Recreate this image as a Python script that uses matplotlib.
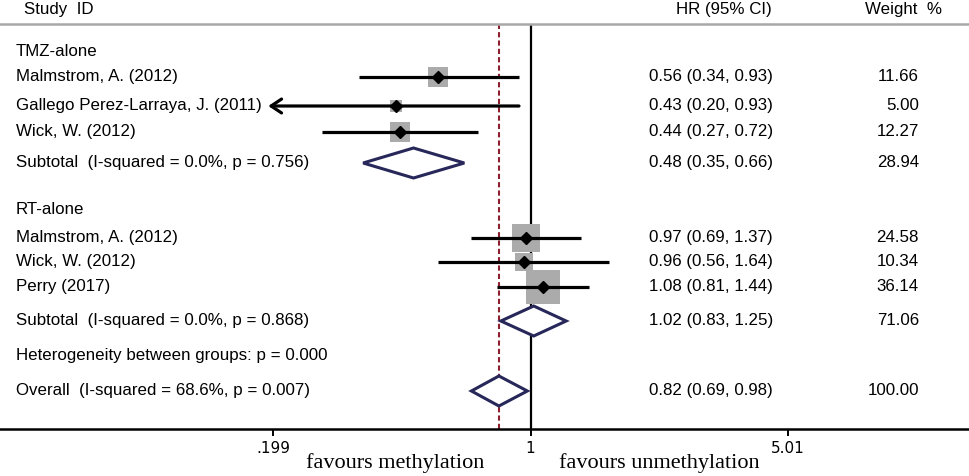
import numpy as np
import matplotlib
matplotlib.use("Agg")
import matplotlib.pyplot as plt
from matplotlib import transforms
from matplotlib.patches import Polygon

# ---------------- data ----------------
group_names = ["TMZ-alone", "RT-alone"]
study_labels = [
    ["Malmstrom, A. (2012)", "Gallego Perez-Larraya, J. (2011)", "Wick, W. (2012)"],
    ["Malmstrom, A. (2012)", "Wick, W. (2012)", "Perry (2017)"],
]
study_hr = [[0.56, 0.43, 0.44], [0.97, 0.96, 1.08]]
study_lo = [[0.34, 0.20, 0.27], [0.69, 0.56, 0.81]]
study_hi = [[0.93, 0.93, 0.72], [1.37, 1.64, 1.44]]
study_w = [[11.66, 5.00, 12.27], [24.58, 10.34, 36.14]]

sub_labels = ["Subtotal  (I-squared = 0.0%, p = 0.756)",
              "Subtotal  (I-squared = 0.0%, p = 0.868)"]
sub_hr = [0.48, 1.02]
sub_lo = [0.35, 0.83]
sub_hi = [0.66, 1.25]
sub_w = [28.94, 71.06]

het_label = "Heterogeneity between groups: p = 0.000"
overall_label = "Overall  (I-squared = 68.6%, p = 0.007)"
overall_hr, overall_lo, overall_hi, overall_w = 0.82, 0.69, 0.98, 100.00

xticks = [0.199, 1, 5.01]
xtick_labels = [".199", "1", "5.01"]
axis_min = 0.199

# ---------------- layout ----------------
W, H = 970, 476
fig = plt.figure(figsize=(W / 100, H / 100), dpi=100)
ax_top, ax_bot = 24, 429
ax = fig.add_axes([0, (H - ax_bot) / H, 1, (ax_bot - ax_top) / H])
ax.set_xscale("log")
ax.set_xlim(0.0359, 15.73)
ax.set_ylim(ax_bot, ax_top)

plt.rcParams["font.family"] = ["Liberation Sans", "DejaVu Sans"]
FS = 12.2
T = transforms.blended_transform_factory(fig.transFigure, ax.transData)

# row y positions (layout)
group_y = [52, 210]
study_y = [[77, 106, 132], [238, 262, 287]]
sub_y = [163, 321]
het_y = 356
overall_y = 391
half_h = 15

x_label = 16 / W
x_hr = 773 / W
x_w = 919 / W

navy = "#27275a"
grey = "#ababab"

# reference lines
ax.axvline(1, color="black", lw=1.6, zorder=1)
ax.axvline(overall_hr, color="#8e1f2f", lw=1.5, ls=(0, (2.5, 1.5)), zorder=1)

def fmt(h, l, u):
    return f"{h:.2f} ({l:.2f}, {u:.2f})"

def diamond(est, lo, hi, y):
    poly = Polygon([(lo, y), (est, y - half_h), (hi, y), (est, y + half_h)],
                   closed=True, facecolor="white", edgecolor=navy, lw=2.2, zorder=4)
    ax.add_patch(poly)

for g in range(2):
    ax.text(x_label, group_y[g], group_names[g], transform=T, ha="left", va="center", fontsize=FS)
    for i in range(3):
        y = study_y[g][i]
        h, l, u, w = study_hr[g][i], study_lo[g][i], study_hi[g][i], study_w[g][i]
        ax.plot([h], [y], marker="s", markersize=4.03 * np.sqrt(w), color=grey,
                markeredgewidth=0, zorder=2, linestyle="none")
        if l <= axis_min + 0.005:
            ax.annotate("", xy=(axis_min * 0.97, y), xytext=(u, y),
                        arrowprops=dict(arrowstyle="->,head_length=0.75,head_width=0.5",
                                        lw=2.3, color="black", shrinkA=0, shrinkB=0),
                        zorder=3)
        else:
            ax.plot([l, u], [y, y], color="black", lw=2.3, zorder=3, solid_capstyle="butt")
        ax.plot([h], [y], marker="D", markersize=6.2, color="black", zorder=5, linestyle="none")
        ax.text(x_label, y, study_labels[g][i], transform=T, ha="left", va="center", fontsize=FS)
        ax.text(x_hr, y, fmt(h, l, u), transform=T, ha="right", va="center", fontsize=FS)
        ax.text(x_w, y, f"{w:.2f}", transform=T, ha="right", va="center", fontsize=FS)
    y = sub_y[g]
    diamond(sub_hr[g], sub_lo[g], sub_hi[g], y)
    ax.text(x_label, y, sub_labels[g], transform=T, ha="left", va="center", fontsize=FS)
    ax.text(x_hr, y, fmt(sub_hr[g], sub_lo[g], sub_hi[g]), transform=T, ha="right", va="center", fontsize=FS)
    ax.text(x_w, y, f"{sub_w[g]:.2f}", transform=T, ha="right", va="center", fontsize=FS)

ax.text(x_label, het_y, het_label, transform=T, ha="left", va="center", fontsize=FS)

diamond(overall_hr, overall_lo, overall_hi, overall_y)
ax.text(x_label, overall_y, overall_label, transform=T, ha="left", va="center", fontsize=FS)
ax.text(x_hr, overall_y, fmt(overall_hr, overall_lo, overall_hi), transform=T, ha="right", va="center", fontsize=FS)
ax.text(x_w, overall_y, f"{overall_w:.2f}", transform=T, ha="right", va="center", fontsize=FS)

# headers
ax.text(24 / W, 10, "Study  ID", transform=T, ha="left", va="center", fontsize=FS)
ax.text(772 / W, 10, "HR (95% CI)", transform=T, ha="right", va="center", fontsize=FS)
ax.text(865 / W, 10, "Weight  %", transform=T, ha="left", va="center", fontsize=FS)

# axes styling
for s in ["left", "right"]:
    ax.spines[s].set_visible(False)
ax.spines["top"].set_color("#a8a8a8")
ax.spines["top"].set_linewidth(1.8)
ax.spines["bottom"].set_color("black")
ax.spines["bottom"].set_linewidth(1.8)
ax.set_yticks([])
ax.set_xticks(xticks)
ax.set_xticklabels(xtick_labels)
ax.xaxis.set_minor_locator(matplotlib.ticker.NullLocator())
ax.tick_params(axis="x", direction="out", length=5, width=1.4, labelsize=11, pad=3.5)

# favours labels
ax.text(395 / W, 463, "favours methylation", transform=T, ha="center", va="center",
        fontsize=16, family=["Liberation Serif", "DejaVu Serif"])
ax.text(659 / W, 463, "favours unmethylation", transform=T, ha="center", va="center",
        fontsize=16, family=["Liberation Serif", "DejaVu Serif"])

fig.savefig("out.png", dpi=100)
